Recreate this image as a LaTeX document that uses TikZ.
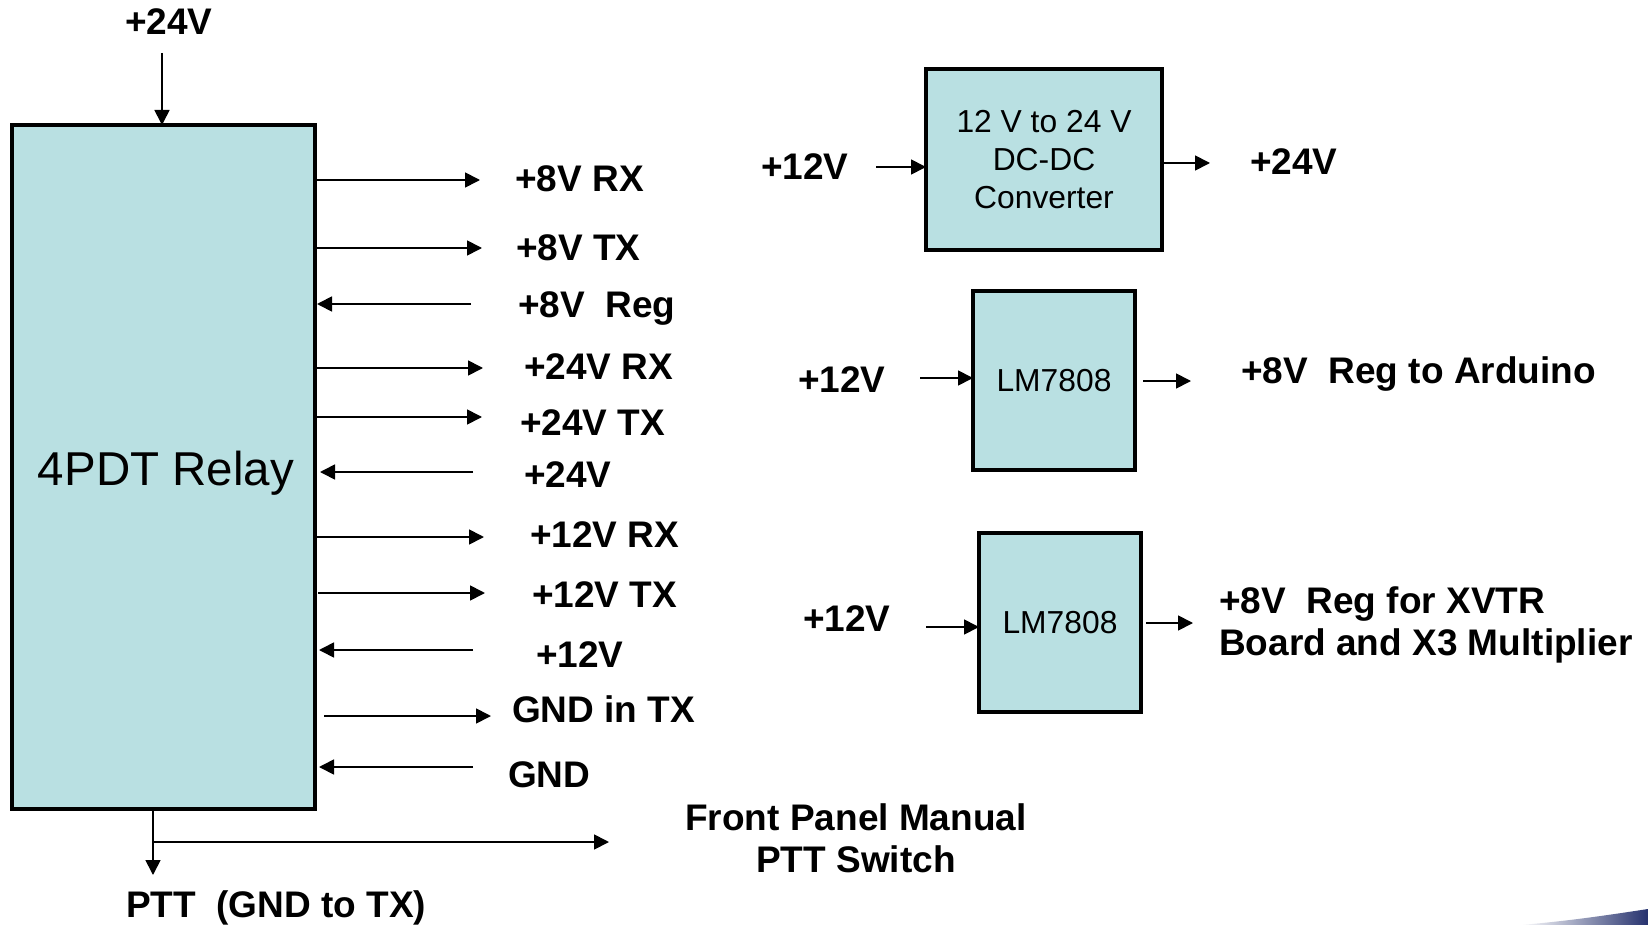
\documentclass[tikz,border=0pt]{standalone}
\usepackage{fontspec}
\setmainfont{Liberation Sans}
\usetikzlibrary{arrows.meta}
\definecolor{boxfill}{RGB}{185,224,226}
\definecolor{navyblob}{RGB}{38,50,110}
\begin{document}
\begin{tikzpicture}[x=1pt,y=-1pt,
  blk/.style={draw=black,line width=4pt,fill=boxfill,inner sep=0pt,outer sep=0pt},
  arr/.style={line width=1.7pt,-{Triangle[length=15pt,width=15pt]}},
  lbl/.style={font=\fontsize{37}{42.5}\selectfont\bfseries,inner sep=0pt,anchor=base west},
  btxt/.style={font=\fontsize{31.8}{38}\selectfont,align=center}]
\useasboundingbox (0,0) rectangle (1648,925);

% ---- 4PDT relay ----
\node[blk,minimum width=303pt,minimum height=684pt,font=\fontsize{47.5}{56}\selectfont] (relay) at (163.5,467) {\raisebox{-18pt}[0pt][0pt]{\makebox[0pt]{\hspace{5pt}4PDT Relay}}};

\node[lbl] (top24) at (125,35) {+24V};
\coordinate (top24a) at (162,53);
\draw[arr] (top24a) -- (top24a |- relay.north);

% right side labels
\node[lbl] (rx8)   at (515,192) {+8V RX};
\node[lbl] (tx8)   at (516,261) {+8V TX};
\node[lbl] (reg8)  at (518,317) {+8V\ \ Reg};
\node[lbl] (rx24)  at (524,379) {+24V RX};
\node[lbl] (tx24)  at (520,435) {+24V TX};
\node[lbl] (in24)  at (524,487) {+24V};
\node[lbl] (rx12)  at (530,547) {+12V RX};
\node[lbl] (tx12)  at (532,607) {+12V TX};
\node[lbl] (in12)  at (536,667) {+12V};
\node[lbl] (gndtx) at (512,722) {GND in TX};
\node[lbl] (gnd)   at (508,787) {GND};

% arrow ends
\coordinate (e1) at (480,180);
\coordinate (e2) at (482,248);
\coordinate (e3) at (471,304);
\coordinate (e4) at (483,368);
\coordinate (e5) at (482,417);
\coordinate (e6) at (473,472);
\coordinate (e7) at (484,537);
\coordinate (e8) at (485,593);
\coordinate (e9) at (473,650);
\coordinate (e10) at (491,716);
\coordinate (e11) at (473,767);

\draw[arr] (relay.east |- e1) -- (e1);
\draw[arr] (relay.east |- e2) -- (e2);
\draw[arr] (e3) -- ([xshift=2pt]relay.east |- e3);
\draw[arr] (relay.east |- e4) -- (e4);
\draw[arr] (relay.east |- e5) -- (e5);
\draw[arr] (e6) -- ([xshift=5pt]relay.east |- e6);
\draw[arr] (relay.east |- e7) -- (e7);
\draw[arr] ([xshift=3pt]relay.east |- e8) -- (e8);
\draw[arr] (e9) -- ([xshift=4pt]relay.east |- e9);
\draw[arr] ([xshift=9pt]relay.east |- e10) -- (e10);
\draw[arr] (e11) -- ([xshift=4pt]relay.east |- e11);

% PTT
\coordinate (pttEnd) at (153,875);
\coordinate (pttBr) at (153,842);
\coordinate (fpEnd) at (609,842);
\draw[arr] (relay.south -| pttEnd) -- (pttEnd);
\draw[arr] (pttBr) -- (fpEnd);
\node[lbl] (ptt) at (126,917) {PTT\ \ (GND to TX)};
\node[lbl,anchor=base] (fp) at (856,830) {\begin{tabular}[t]{@{}c@{}}Front Panel Manual\\PTT Switch\end{tabular}};

% ---- DC-DC converter ----
\node[blk,btxt,minimum width=236pt,minimum height=181pt] (conv) at (1044,159.5) {12 V to 24 V\\DC-DC\\Converter};
\node[lbl] (cin) at (761,180) {+12V};
\node[lbl] (cout) at (1250,175) {+24V};
\coordinate (ca) at (876,167);
\coordinate (cb) at (1210,163);
\draw[arr] (ca) -- (conv.west |- ca);
\draw[arr] ([xshift=2pt]conv.east |- cb) -- (cb);

% ---- LM7808 #1 ----
\node[blk,btxt,minimum width=162pt,minimum height=179pt] (lmA) at (1054,380.5) {LM7808};
\node[lbl] (lmAin) at (798,392) {+12V};
\node[lbl] (lmAout) at (1241,383) {+8V\ \ Reg to Arduino};
\coordinate (la) at (920,378);
\coordinate (lb) at (1191,381);
\draw[arr] (la) -- (lmA.west |- la);
\draw[arr] ([xshift=8pt]lmA.east |- lb) -- (lb);

% ---- LM7808 #2 ----
\node[blk,btxt,minimum width=162pt,minimum height=179pt] (lmB) at (1060,622.5) {LM7808};
\node[lbl] (lmBin) at (803,631) {+12V};
\node[lbl] (lmBout) at (1219,613) {\begin{tabular}[t]{@{}l@{}}+8V\ \ Reg for XVTR\\Board and X3 Multiplier\end{tabular}};
\coordinate (ma) at (926,627);
\coordinate (mb) at (1193,623);
\draw[arr] (ma) -- (lmB.west |- ma);
\draw[arr] ([xshift=5pt]lmB.east |- mb) -- (mb);

% corner smear
\shade[left color=white,right color=navyblob] (1520,925) .. controls (1570,921) and (1615,914) .. (1648,909) -- (1648,925) -- cycle;
\end{tikzpicture}
\end{document}
